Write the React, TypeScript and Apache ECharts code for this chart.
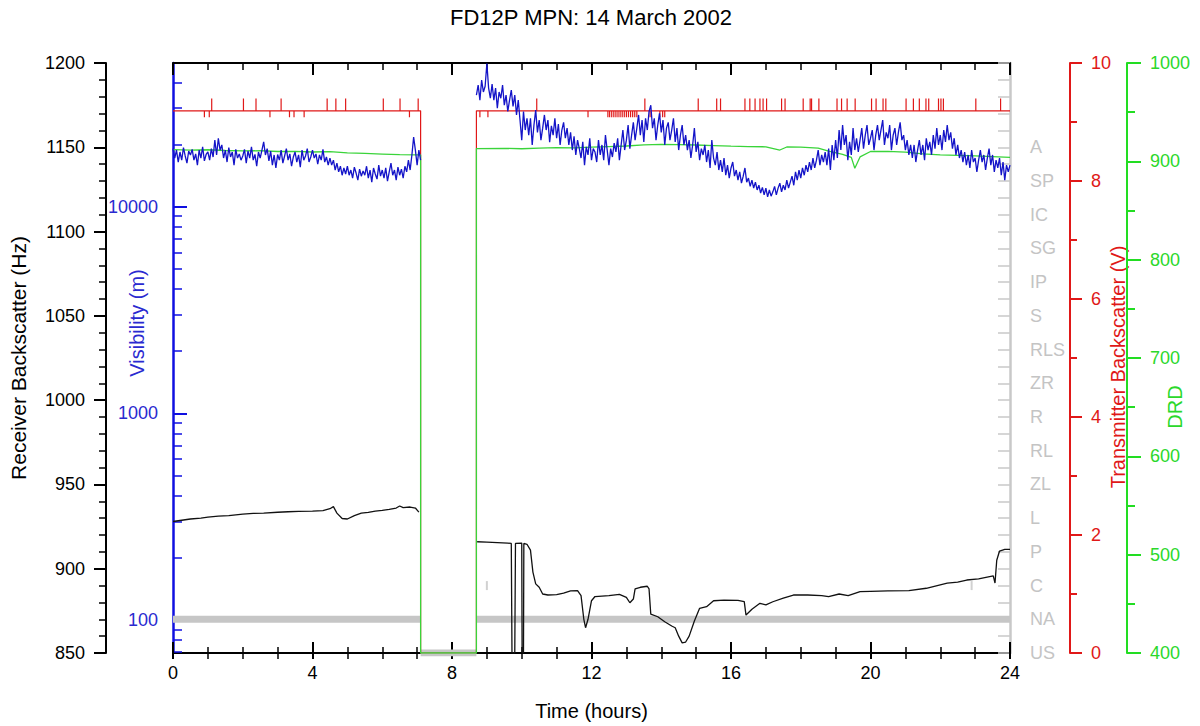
import React, { useEffect, useRef } from 'react';
import * as echarts from 'echarts';

const TITLE = 'FD12P MPN: 14 March 2002';
const FONT = '"Liberation Sans", Arial, Helvetica, sans-serif';

// present-weather codes on the grey right axis (0 = US ... 15 = A)
const weatherCodes = ['US', 'NA', 'C', 'P', 'L', 'ZL', 'RL', 'R', 'ZR', 'RLS', 'S', 'IP', 'SG', 'IC', 'SP', 'A'];

// visibility (log) axis labels / ticks, metres
const visLabelValues = [100, 1000, 10000];
const visMinorTickValues = [70, 80, 90, 200, 300, 400, 500, 600, 700, 800, 900, 2000, 3000, 4000, 5000, 6000, 7000, 8000, 9000, 20000, 30000, 40000];
const visMin = 69.2;
const visMax = 49600;

// Visibility (m), sampled every 0.05 h
const visStep = 0.05;
const visStartA = 0.0;
const visibilityA = [
  19100, 17200, 18800, 16450, 18400, 16800, 19300, 17600, 16250, 18600,
  17800, 18950, 16800, 18000, 15900, 18800, 17200, 19500, 16650, 17900,
  18400, 16800, 19100, 17400, 21000, 17800, 21450, 18800, 19900, 17200,
  18800, 16450, 19300, 17400, 18400, 15900, 18950, 17200, 18000, 16800,
  17600, 18950, 16250, 18600, 17200, 19500, 16800, 17900, 15700, 18400,
  17200, 18800, 20600, 17800, 19100, 16650, 18600, 15900, 17800, 15400,
  17900, 16800, 18800, 16250, 17600, 19100, 16800, 18000, 15700, 17400,
  18400, 16450, 17800, 15550, 18800, 16800, 17600, 19100, 16450, 17400,
  18800, 17200, 18000, 16050, 17800, 16800, 18950, 16450, 17400, 15900,
  17200, 15900, 16800, 15050, 16250, 14750, 15700, 14200, 15400, 14400,
  15700, 14200, 15050, 13750, 15550, 14550, 13450, 15200, 14050, 14900,
  14200, 15700, 13750, 15050, 13150, 15400, 14400, 13600, 15900, 14050,
  15050, 13750, 15400, 13300, 14750, 16250, 14200, 15050, 13450, 15550,
  14200, 15200, 13750, 15700, 14750, 16800, 15050, 17800, 21700, 18800,
  15900, 18800, 16800,
];
const visStartB = 8.7;
const visibilityB = [
  34700, 38800, 32800, 41000, 35900, 38300, 49300, 37500, 33500, 39200,
  32800, 37500, 30000, 35900, 33500, 38800, 31000, 34700, 28900, 32800,
  36700, 30600, 34700, 27800, 32800, 26270, 21000, 28900, 23500, 26800,
  22200, 26800, 19900, 24850, 29350, 22900, 26270, 21000, 24000, 27800,
  23500, 26270, 20500, 24600, 22200, 26800, 21450, 25100, 19900, 23500,
  25600, 21450, 24000, 19900, 22900, 18800, 21900, 17800, 21000, 19100,
  17200, 20600, 15900, 19500, 17800, 21450, 16800, 19100, 18400, 16450,
  21000, 17800, 19900, 16800, 22200, 18800, 15900, 19100, 17400, 20300,
  18400, 21450, 16800, 19900, 23500, 18800, 21000, 24850, 19100, 22200,
  25600, 21000, 24000, 27800, 22200, 26270, 20600, 26800, 23500, 28900,
  31000, 24000, 26800, 21000, 24850, 28300, 22900, 26270, 19900, 24000,
  25600, 21000, 23500, 26800, 20600, 24000, 18800, 22200, 24850, 19900,
  22200, 18800, 21000, 17200, 19900, 24000, 18400, 20600, 16800, 19100,
  17800, 19900, 16450, 18800, 15400, 21000, 17200, 15900, 18400, 15050,
  16800, 14750, 17200, 14200, 15900, 13750, 15400, 16450, 14050, 15050,
  13450, 14750, 13000, 14050, 15400, 13150, 13750, 12550, 13450, 12300,
  13150, 12050, 12700, 11650, 12400, 11400, 12300, 11150, 12050, 11250,
  11800, 12550, 11400, 12300, 13000, 11800, 12700, 12050, 13450, 12300,
  13150, 14050, 12700, 14750, 13450, 15050, 13750, 15400, 14200, 15900,
  14750, 16450, 15050, 17200, 15400, 16800, 18800, 15900, 17800, 16450,
  18400, 15900, 19100, 15050, 19900, 16800, 21000, 17200, 23500, 18800,
  24850, 19900, 22200, 16800, 20600, 17800, 24000, 18800, 21450, 18400,
  21000, 24000, 19100, 22200, 24850, 19900, 21450, 23500, 18800, 22200,
  24850, 21000, 23500, 26270, 19900, 22900, 21450, 24850, 18800, 22200,
  24000, 19900, 22900, 25600, 21000, 22200, 18800, 21000, 17800, 19900,
  17200, 19900, 16450, 18800, 21000, 17800, 19900, 16800, 21450, 18800,
  20600, 17800, 22200, 19100, 24000, 19900, 22200, 18800, 23500, 20600,
  24850, 21000, 22900, 19100, 21450, 17800, 19900, 17200, 18800, 16450,
  18400, 15900, 17800, 15400, 18800, 16450, 17200, 14750, 16800, 18800,
  16450, 17800, 15050, 17200, 19100, 15900, 17800, 14750, 16800, 15400,
  17200, 14200, 16450, 13450, 15900, 14750, 15900,
];

// Receiver backscatter (Hz): [time h, value]
const receiverA = [
  [0.0, 928.0], [0.2, 928.6], [0.5, 929.5], [0.8, 930.0], [1.0, 930.6], [1.3, 931.2], [1.6, 931.5],
  [2.0, 932.4], [2.3, 932.8], [2.6, 933.0], [3.0, 933.5], [3.3, 933.8], [3.6, 934.0], [4.0, 934.2],
  [4.3, 934.5], [4.5, 935.6], [4.6, 936.8], [4.7, 933.0], [4.85, 929.8], [5.0, 929.5], [5.2, 931.5],
  [5.4, 933.0], [5.6, 933.4], [5.8, 934.2], [6.0, 934.6], [6.2, 935.2], [6.4, 936.0], [6.5, 937.2],
  [6.6, 936.2], [6.8, 936.6], [6.95, 936.0], [7.05, 933.6],
];
const receiverB = [
  [8.72, 916.0], [9.0, 915.8], [9.3, 915.5], [9.6, 915.2], [9.70, 915.0], [9.72, 850], [9.80, 850],
  [9.82, 915.0], [10.0, 915.2], [10.01, 850], [10.05, 850], [10.06, 915.0], [10.15, 914.5],
  [10.25, 911], [10.32, 898], [10.4, 891], [10.5, 889], [10.6, 885], [10.75, 884.4], [11.0, 884.6],
  [11.2, 885.5], [11.4, 886.8], [11.6, 887], [11.7, 884], [11.78, 870], [11.83, 865], [11.9, 870],
  [12.0, 881], [12.1, 883.5], [12.5, 884], [12.8, 884.8], [13.0, 883], [13.1, 879.8], [13.2, 882],
  [13.25, 888], [13.4, 889], [13.6, 889.6], [13.65, 888], [13.7, 873], [13.9, 871.5], [14.1, 868.5],
  [14.3, 866], [14.4, 865], [14.5, 860], [14.6, 856], [14.7, 856.5], [14.8, 860], [14.95, 869],
  [15.1, 876.5], [15.3, 877.5], [15.5, 881], [15.8, 881.4], [16.2, 881.2], [16.38, 880.5],
  [16.43, 872.5], [16.6, 876], [16.83, 879.5], [17.0, 878.5], [17.2, 880.4], [17.5, 882.5],
  [17.79, 884.4], [18.2, 884.4], [18.6, 884], [18.8, 883.5], [19.1, 885.0], [19.36, 884],
  [19.7, 886.4], [20.0, 886.6], [20.5, 886.8], [21.1, 887], [21.6, 888.4], [22.2, 891.4],
  [22.5, 892], [22.76, 893.3], [23.1, 894], [23.52, 895.7], [23.57, 891.5], [23.62, 905],
  [23.7, 910.5], [23.85, 911.5], [24.0, 911.5],
];

// DRD: [time h, value]
const drdA = [
  [0, 912], [0.5, 911.5], [1, 911.8], [1.5, 911], [2, 910.6], [2.5, 910.8], [3, 910], [3.5, 910.2],
  [4, 909.5], [4.5, 909.8], [5, 908.6], [5.5, 908], [6, 907.4], [6.5, 906.8], [7, 906.5], [7.1, 906.5],
];
const drdGap = [[7.1, 400], [8.7, 400]];
const drdB = [
  [8.7, 913], [9.5, 913.2], [10, 912.8], [10.5, 913.4], [11, 914], [11.5, 913.6], [12, 914.4],
  [12.5, 915], [13, 915.6], [13.5, 916.8], [14, 917.2], [14.5, 917], [15, 916.6], [15.5, 916],
  [16, 915.4], [16.5, 915], [17, 914.8], [17.4, 911.5], [17.6, 914.6], [18, 914.5], [18.5, 913.5],
  [18.8, 910.5], [19.2, 907], [19.45, 904], [19.55, 893], [19.7, 904.5], [20, 910], [20.5, 910.2],
  [21, 909.4], [21.5, 907.5], [22, 906.5], [22.5, 906], [23, 905.5], [23.5, 904.8], [24, 904],
];

// Transmitter backscatter (V)
const txBase = 9.19;
const txUp = 9.4;
const txDown = 9.08;
const txOffStart = 7.1;
const txOffEnd = 8.7;
const txUpTimes = [
  1.11, 2.02, 2.38, 3.10, 4.42, 4.67, 4.95, 6.03, 6.51, 7.03,
  10.43, 13.53, 15.06, 15.59, 15.70, 16.40, 16.54, 16.69, 16.83, 16.92, 17.02, 17.45, 17.55,
  18.07, 18.27, 18.31, 18.52, 19.04, 19.17, 19.33, 19.56, 20.03, 20.16, 20.36, 20.44,
  21.02, 21.23, 21.40, 21.59, 21.67, 21.95, 22.02, 22.09, 23.02, 23.73,
];
const txDownTimes = [
  0.90, 1.04, 2.78, 3.34, 3.47, 3.76, 6.78,
  8.80, 9.03, 11.90, 12.47, 12.52, 12.58, 12.64, 12.70, 12.76, 12.82, 12.88, 12.94, 13.00,
  13.06, 13.12, 13.18, 13.24, 13.30, 13.68, 13.96, 14.04, 14.10,
];

// Present weather code (index into weatherCodes)
const weatherA = [[0, 1], [7.1, 1]];
const weatherGap = [[7.1, 0], [8.7, 0]];
const weatherB = [[8.7, 1], [24, 1]];
const weatherBlips = [[9.0, 2], [22.9, 2]];

function sampled(start: number, step: number, vals: number[]) {
  return vals.map((v, i) => [+(start + i * step).toFixed(2), Math.log10(v)]);
}

function buildTx() {
  const spikes = [
    ...txUpTimes.map((t) => [t, txUp]),
    ...txDownTimes.map((t) => [t, txDown]),
  ].sort((a, b) => a[0] - b[0]);
  const out: number[][] = [[0, txBase]];
  let gapDone = false;
  for (const [t, v] of spikes) {
    if (!gapDone && t > txOffStart) {
      out.push([txOffStart, txBase], [txOffStart, 0], [txOffEnd, 0], [txOffEnd, txBase]);
      gapDone = true;
    }
    out.push([t, txBase], [t, v], [t, txBase]);
  }
  out.push([24, txBase]);
  return out;
}

export default function App() {
  const ref = useRef<HTMLDivElement>(null);
  useEffect(() => {
    const chart = echarts.init(ref.current!, null, { renderer: 'svg' });
    const lg = (v: number) => Math.log10(v);
    const plain = (v: number) => String(v);
    const blueData = [
      ...sampled(visStartA, visStep, visibilityA),
      [7.9, null],
      ...sampled(visStartB, visStep, visibilityB),
    ];
    const blackData = [...receiverA, [7.9, null], ...receiverB];
    const greenData = [...drdA, ...drdGap, ...drdB];
    const grayData = [...weatherA, [7.1, null], ...weatherGap, [8.7, null], ...weatherB];

    const txt = (size: number, color: string) => ({ fontSize: size, color, fontFamily: FONT });
    const xBase = {
      type: 'value', min: 0, max: 24, interval: 4,
      splitLine: { show: false },
    };

    const option: any = {
      animation: false,
      backgroundColor: '#ffffff',
      textStyle: { fontFamily: FONT },
      title: {
        text: TITLE, left: 591, top: 6, textAlign: 'center', padding: 0,
        textStyle: { fontSize: 22, fontWeight: 'normal', color: '#000', fontFamily: FONT },
      },
      grid: { left: 173, right: 190, top: 63, bottom: 73, containLabel: false, outerBoundsMode: 'none' },
      xAxis: [
        {
          ...xBase, position: 'bottom',
          axisLine: { onZero: false, lineStyle: { color: '#000', width: 2 } },
          axisTick: { inside: false, length: 6, lineStyle: { color: '#000', width: 2 } },
          minorTick: { show: true, splitNumber: 4, length: 6, lineStyle: { color: '#000', width: 1.5 } },
          axisLabel: { margin: 11, formatter: plain, ...txt(18, '#000') },
          name: 'Time (hours)', nameLocation: 'middle', nameGap: 48, nameMoveOverlap: false,
          nameTextStyle: txt(20, '#000'),
        },
        {
          ...xBase, position: 'bottom',
          axisLine: { show: false, onZero: false },
          axisTick: { inside: true, length: 11, lineStyle: { color: '#000', width: 2 } },
          minorTick: { show: true, splitNumber: 4, length: 6, lineStyle: { color: '#000', width: 1.5 } },
          axisLabel: { show: false },
        },
        {
          ...xBase, position: 'top',
          axisLine: { onZero: false, lineStyle: { color: '#000', width: 2 } },
          axisTick: { inside: true, length: 12, lineStyle: { color: '#000', width: 2 } },
          minorTick: { show: true, splitNumber: 4, length: 7, lineStyle: { color: '#000', width: 1.5 } },
          axisLabel: { show: false },
        },
      ],
      yAxis: [
        {
          type: 'value', min: 850, max: 1200, interval: 50, position: 'left', offset: 67,
          splitLine: { show: false },
          axisLine: { show: true, onZero: false, lineStyle: { color: '#000', width: 2 } },
          axisTick: { show: true, inside: false, length: 12, lineStyle: { color: '#000', width: 2 } },
          minorTick: { show: true, splitNumber: 5, length: 7, lineStyle: { color: '#000', width: 1.5 } },
          axisLabel: { margin: 21, formatter: plain, ...txt(18, '#000') },
          name: 'Receiver Backscatter (Hz)', nameLocation: 'middle', nameGap: 77, nameRotate: 90,
          nameMoveOverlap: false,
          nameTextStyle: txt(21, '#000'),
        },
        {
          type: 'value', min: lg(visMin), max: lg(visMax), position: 'left', offset: 0,
          splitLine: { show: false },
          axisLine: { show: true, onZero: false, lineStyle: { color: '#1010e0', width: 2.5 } },
          axisTick: { show: true, inside: true, length: 14, customValues: visLabelValues.map(lg), lineStyle: { color: '#1010e0', width: 2 } },
          axisLabel: {
            margin: 15, customValues: visLabelValues.map(lg), ...txt(18, '#2a2ad0'),
            formatter: (v: number) => String(Math.round(Math.pow(10, v))),
          },
          name: 'Visibility (m)', nameLocation: 'middle', nameGap: 26, nameRotate: 90,
          nameMoveOverlap: false,
          nameTextStyle: { ...txt(20, '#2a2ad0'), padding: [0, 0, 0, 70] },
        },
        {
          type: 'value', min: lg(visMin), max: lg(visMax), position: 'left', offset: 0,
          splitLine: { show: false },
          axisLine: { show: false, onZero: false },
          axisTick: { show: true, inside: true, length: 9, customValues: visMinorTickValues.map(lg), lineStyle: { color: '#1010e0', width: 1.5 } },
          axisLabel: { show: false },
        },
        {
          type: 'value', min: 0, max: 17.5, interval: 0.5, position: 'right', offset: 0,
          splitLine: { show: false },
          axisLine: { show: true, onZero: false, lineStyle: { color: '#c8c8c8', width: 2.5 } },
          axisTick: { show: true, inside: true, length: 12, lineStyle: { color: '#c8c8c8', width: 1.5 } },
          axisLabel: {
            margin: 20, ...txt(18, '#c4c4c4'),
            formatter: (v: number) => (Number.isInteger(v) && v < weatherCodes.length ? weatherCodes[v] : ''),
          },
        },
        {
          type: 'value', min: 0, max: 10, interval: 2, position: 'right', offset: 60,
          splitLine: { show: false },
          axisLine: { show: true, onZero: false, lineStyle: { color: '#e01818', width: 2 } },
          axisTick: { show: true, inside: false, length: 12, lineStyle: { color: '#e01818', width: 2 } },
          minorTick: { show: true, splitNumber: 2, length: 7, lineStyle: { color: '#e01818', width: 2 } },
          axisLabel: { margin: 21, formatter: plain, ...txt(18, '#e01818') },
          name: 'Transmitter Backscatter (V)', nameLocation: 'middle', nameGap: 38, nameRotate: 90,
          nameMoveOverlap: false,
          nameTextStyle: { ...txt(20, '#e01818'), padding: [0, 18, 0, 0] },
        },
        {
          type: 'value', min: 400, max: 1000, interval: 100, position: 'right', offset: 117,
          splitLine: { show: false },
          axisLine: { show: true, onZero: false, lineStyle: { color: '#22dd22', width: 2 } },
          axisTick: { show: true, inside: false, length: 14, lineStyle: { color: '#22dd22', width: 2 } },
          minorTick: { show: true, splitNumber: 2, length: 8, lineStyle: { color: '#22dd22', width: 2 } },
          axisLabel: { margin: 23, formatter: plain, ...txt(18, '#2bd82b') },
          name: 'DRD', nameLocation: 'middle', nameGap: 38, nameRotate: 90,
          nameMoveOverlap: false,
          nameTextStyle: { ...txt(20, '#2bd82b'), padding: [0, 98, 0, 0] },
        },
      ],
      series: [
        {
          type: 'line', xAxisIndex: 0, yAxisIndex: 3, data: grayData, symbol: 'none',
          connectNulls: false, lineStyle: { color: '#c6c6c6', width: 7 }, z: 1,
        },
        {
          type: 'scatter', xAxisIndex: 0, yAxisIndex: 3, data: weatherBlips, symbol: 'rect',
          symbolSize: [2, 9], itemStyle: { color: '#c6c6c6' }, z: 1,
        },
        {
          type: 'line', xAxisIndex: 0, yAxisIndex: 0, data: blackData, symbol: 'none',
          connectNulls: false, lineStyle: { color: '#111', width: 1.3 }, z: 2,
        },
        {
          type: 'line', xAxisIndex: 0, yAxisIndex: 4, data: buildTx(), symbol: 'none',
          lineStyle: { color: '#e01818', width: 1.2 }, z: 3,
        },
        {
          type: 'line', xAxisIndex: 0, yAxisIndex: 5, data: greenData, symbol: 'none',
          lineStyle: { color: '#3ad43a', width: 1.3 }, z: 4,
        },
        {
          type: 'line', xAxisIndex: 0, yAxisIndex: 1, data: blueData, symbol: 'none',
          connectNulls: false, lineStyle: { color: '#1414c8', width: 1.3 }, z: 5,
        },
      ],
    };
    chart.setOption(option);
    return () => chart.dispose();
  }, []);
  return (
    <div
      ref={ref}
      style={{ position: 'absolute', left: 0, top: 0, width: 1200, height: 726, background: '#fff' }}
    />
  );
}
